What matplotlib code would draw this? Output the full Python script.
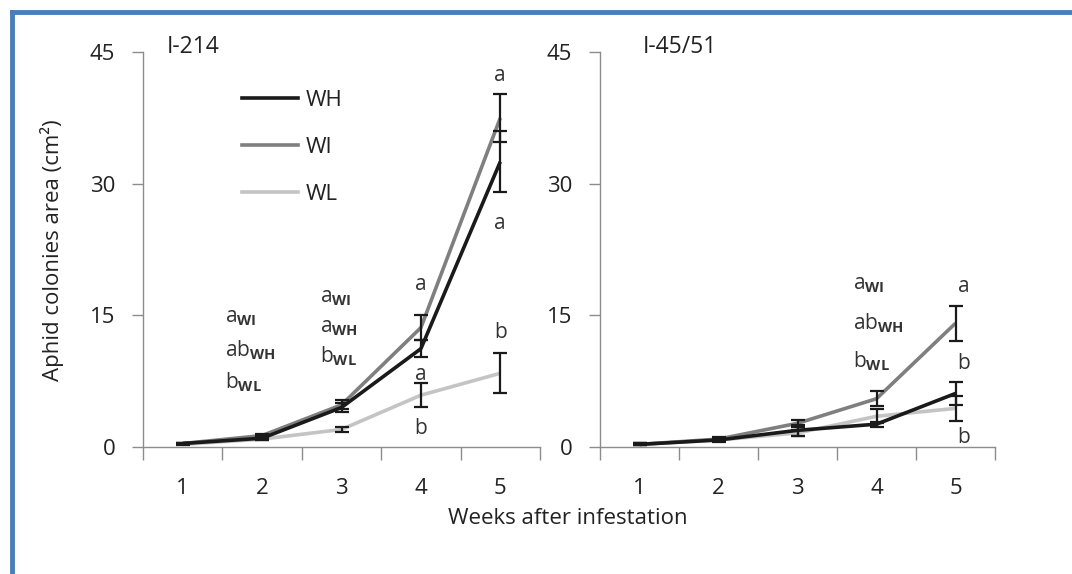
import matplotlib
matplotlib.use("Agg")
import matplotlib.pyplot as plt
from matplotlib.lines import Line2D

plt.rcParams['font.family'] = ['Open Sans', 'DejaVu Sans']
plt.rcParams['mathtext.fontset'] = 'custom'
plt.rcParams['mathtext.rm'] = 'Open Sans'
plt.rcParams['mathtext.bf'] = 'Open Sans:bold'

weeks = [1, 2, 3, 4, 5]
series = ["WH", "WI", "WL"]
colors = {"WH": "#1a1a1a", "WI": "#7f7f7f", "WL": "#c4c4c4"}

# I-214
i214_WH = [0.4, 1.0, 4.5, 11.2, 32.5]
i214_WI = [0.4, 1.3, 4.8, 13.6, 37.5]
i214_WL = [0.3, 0.9, 2.0, 5.9, 8.4]
i214_WH_err = [0.1, 0.2, 0.5, 1.0, 3.5]
i214_WI_err = [0.1, 0.2, 0.5, 1.4, 2.7]
i214_WL_err = [0.1, 0.1, 0.3, 1.35, 2.3]

# I-45/51
i4551_WH = [0.3, 0.8, 1.9, 2.6, 6.1]
i4551_WI = [0.3, 0.9, 2.7, 5.5, 14.1]
i4551_WL = [0.3, 0.8, 1.6, 3.5, 4.4]
i4551_WH_err = [0.1, 0.2, 0.6, 0.3, 1.3]
i4551_WI_err = [0.1, 0.2, 0.4, 0.85, 2.0]
i4551_WL_err = [0.1, 0.1, 0.3, 0.8, 1.4]

yticks = [0, 15, 30, 45]
titles = ["I-214", "I-45/51"]

fig = plt.figure(figsize=(10.72, 5.74), dpi=100)
W, H = 1072, 574

def make_ax(x0, x1, y0=447, y1=52):
    return fig.add_axes([x0 / W, (H - y0) / H, (x1 - x0) / W, (y0 - y1) / H])

ax1 = make_ax(143, 540)
ax2 = make_ax(600, 995)

data = [
    (ax1, {"WH": (i214_WH, i214_WH_err), "WI": (i214_WI, i214_WI_err), "WL": (i214_WL, i214_WL_err)}),
    (ax2, {"WH": (i4551_WH, i4551_WH_err), "WI": (i4551_WI, i4551_WI_err), "WL": (i4551_WL, i4551_WL_err)}),
]

spine_c = "#8c8c8c"
for (ax, d), title in zip(data, titles):
    for s in ["WL", "WI", "WH"]:
        vals, err = d[s]
        ax.plot(weeks, vals, color=colors[s], lw=2.6, solid_capstyle='butt', zorder=3)
    for s in ["WL", "WI", "WH"]:
        vals, err = d[s]
        ax.errorbar(weeks, vals, yerr=err, fmt='none', ecolor="#1a1a1a",
                    elinewidth=1.6, capsize=5, capthick=1.6, zorder=4)
    ax.set_xlim(0.5, 5.5)
    ax.set_ylim(0, 45)
    ax.set_yticks(yticks)
    ax.set_xticks([0.5, 1.5, 2.5, 3.5, 4.5, 5.5])
    ax.set_xticklabels([])
    ax.set_xticks(weeks, minor=True)
    ax.set_xticklabels([str(w) for w in weeks], minor=True)
    ax.tick_params(axis='x', which='major', direction='out', length=9, color=spine_c, width=1)
    ax.tick_params(axis='x', which='minor', length=0, pad=22, labelsize=16, labelcolor="#222222")
    ax.tick_params(axis='y', direction='out', length=8, color=spine_c, width=1,
                   labelsize=16, labelcolor="#222222", pad=12)
    for sp in ["top", "right"]:
        ax.spines[sp].set_visible(False)
    for sp in ["left", "bottom"]:
        ax.spines[sp].set_color(spine_c)
        ax.spines[sp].set_linewidth(1)
    ax.patch.set_alpha(0)

ax1.text(0.8, 45.6, titles[0], fontsize=16.5, color="#222222", va='center', ha='left', clip_on=False)
ax2.text(1.04, 45.6, titles[1], fontsize=16.5, color="#222222", va='center', ha='left', clip_on=False)

# legend (inside left panel)
leg_handles = [Line2D([], [], color=colors[s], lw=2.6) for s in series]
leg = ax1.legend(leg_handles, series, loc='upper left', bbox_to_anchor=(0.2, 0.955),
                 frameon=False, fontsize=16, handlelength=2.5, handletextpad=0.35,
                 labelspacing=1.17, labelcolor="#222222")

tc = "#333333"
fs = 15
# I-214 annotations
ax1.text(5, 42.3, "a", fontsize=fs, color=tc, ha='center', va='center')
ax1.text(5, 25.5, "a", fontsize=fs, color=tc, ha='center', va='center')
ax1.text(5, 13.0, "b", fontsize=fs, color=tc, ha='center', va='center')
ax1.text(4, 18.5, "a", fontsize=fs, color=tc, ha='center', va='center')
ax1.text(4, 8.3, "a", fontsize=fs, color=tc, ha='center', va='center')
ax1.text(4, 2.1, "b", fontsize=fs, color=tc, ha='center', va='center')
ax1.text(1.53, 14.8, r"a$_{\mathbf{WI}}$", fontsize=fs, color=tc, ha='left', va='center')
ax1.text(1.53, 11.0, r"ab$_{\mathbf{WH}}$", fontsize=fs, color=tc, ha='left', va='center')
ax1.text(1.53, 7.4, r"b$_{\mathbf{WL}}$", fontsize=fs, color=tc, ha='left', va='center')
ax1.text(2.73, 17.0, r"a$_{\mathbf{WI}}$", fontsize=fs, color=tc, ha='left', va='center')
ax1.text(2.73, 13.6, r"a$_{\mathbf{WH}}$", fontsize=fs, color=tc, ha='left', va='center')
ax1.text(2.73, 10.4, r"b$_{\mathbf{WL}}$", fontsize=fs, color=tc, ha='left', va='center')

# I-45/51 annotations
ax2.text(5.1, 18.3, "a", fontsize=fs, color=tc, ha='center', va='center')
ax2.text(5.1, 9.5, "b", fontsize=fs, color=tc, ha='center', va='center')
ax2.text(5.1, 1.1, "b", fontsize=fs, color=tc, ha='center', va='center')
ax2.text(3.7, 18.5, r"a$_{\mathbf{WI}}$", fontsize=fs, color=tc, ha='left', va='center')
ax2.text(3.7, 14.1, r"ab$_{\mathbf{WH}}$", fontsize=fs, color=tc, ha='left', va='center')
ax2.text(3.7, 9.8, r"b$_{\mathbf{WL}}$", fontsize=fs, color=tc, ha='left', va='center')

fig.text(52 / W, 1 - 250 / H, "Aphid colonies area (cm²)", rotation=90, fontsize=16,
         color="#222222", ha='center', va='center')
fig.text(568 / W, 1 - 518 / H, "Weeks after infestation", fontsize=16,
         color="#222222", ha='center', va='center')

# blue frame
blue = "#4a7ebb"
fig.add_artist(Line2D([12 / W, 12 / W], [0, 1 - 12 / H], transform=fig.transFigure,
                      color=blue, lw=3.5, solid_capstyle='projecting'))
fig.add_artist(Line2D([12 / W, 1], [1 - 12 / H, 1 - 12 / H], transform=fig.transFigure,
                      color=blue, lw=3.5, solid_capstyle='projecting'))

fig.savefig("out.png", dpi=100)
